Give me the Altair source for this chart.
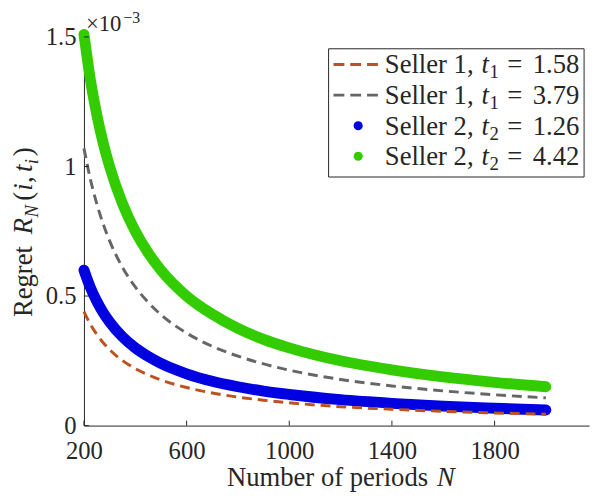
import altair as alt
import pandas as pd

# ---------------- data (values in units of 1e-3) ----------------
N = [200, 225, 250, 275, 300, 350, 400, 450, 500, 600, 700, 800, 900, 1000,
     1200, 1400, 1600, 1800, 2000]
seller1_t158 = [0.44, 0.391, 0.352, 0.32, 0.293, 0.251, 0.22, 0.196, 0.176, 0.147,
                0.126, 0.11, 0.098, 0.088, 0.073, 0.063, 0.055, 0.049, 0.044]
seller1_t379 = [1.07, 0.951, 0.856, 0.778, 0.713, 0.611, 0.535, 0.476, 0.428, 0.357,
                0.306, 0.268, 0.238, 0.214, 0.178, 0.153, 0.134, 0.119, 0.107]
seller2_t126 = [0.60, 0.533, 0.48, 0.436, 0.40, 0.343, 0.30, 0.267, 0.24, 0.20,
                0.171, 0.15, 0.133, 0.12, 0.10, 0.086, 0.075, 0.067, 0.06]
seller2_t442 = [1.51, 1.335, 1.20, 1.09, 1.00, 0.857, 0.75, 0.667, 0.60, 0.50,
                0.43, 0.375, 0.333, 0.30, 0.25, 0.215, 0.188, 0.167, 0.15]
series_names = ["Seller 1, t1 = 1.58", "Seller 1, t1 = 3.79",
                "Seller 2, t2 = 1.26", "Seller 2, t2 = 4.42"]
legend_sub = ["1", "1", "2", "2"]
legend_val = ["1.58", "3.79", "1.26", "4.42"]
x_ticks = [200, 600, 1000, 1400, 1800]
y_ticks = [0, 0.5, 1, 1.5]

rows = []
for name, vals in zip(series_names, [seller1_t158, seller1_t379, seller2_t126, seller2_t442]):
    for n, v in zip(N, vals):
        rows.append({"series": name, "N": n, "R": v})
df = pd.DataFrame(rows)

# ---------------- style ----------------
W, H = 512, 394
FONT = "Liberation Serif"
INK = "#262626"
ORANGE = "#C0501E"
GRAY = "#666666"
BLUE = "#0000E0"
GREEN = "#33CC00"
COLORS = [ORANGE, GRAY, BLUE, GREEN]

xs = alt.Scale(domain=[200, 2168], nice=False, zero=False)
ys = alt.Scale(domain=[0, 1.5], nice=False, zero=False)
cs = alt.Scale(domain=series_names, range=COLORS)

x_axis = alt.Axis(values=x_ticks, title=None, grid=False, ticks=False, domainColor=INK,
                  domainWidth=1, labelFont=FONT, labelFontSize=25, labelColor=INK,
                  labelPadding=13, labelFlush=False, labelOverlap=False, format="d")
y_axis = alt.Axis(values=y_ticks, title=None, grid=False, ticks=False, domainColor=INK,
                  domainWidth=1, labelFont=FONT, labelFontSize=25, labelColor=INK,
                  labelPadding=8, labelFlush=False, labelOverlap=False, format="~g")

base = alt.Chart(df)
dashed = base.transform_filter(
    alt.FieldOneOfPredicate(field="series", oneOf=series_names[:2])
).mark_line(strokeDash=[10, 6], strokeWidth=3, interpolate="monotone").encode(
    x=alt.X("N:Q", scale=xs, axis=x_axis),
    y=alt.Y("R:Q", scale=ys, axis=y_axis),
    color=alt.Color("series:N", scale=cs, legend=None),
)
thick = base.transform_filter(
    alt.FieldOneOfPredicate(field="series", oneOf=series_names[2:])
).mark_line(strokeWidth=11, strokeCap="round", strokeJoin="round",
            interpolate="monotone").encode(
    x=alt.X("N:Q", scale=xs, axis=x_axis),
    y=alt.Y("R:Q", scale=ys, axis=y_axis),
    color=alt.Color("series:N", scale=cs, legend=None),
)

xt = alt.Chart(pd.DataFrame({"v": x_ticks})).mark_rule(color=INK, strokeWidth=1).encode(
    x=alt.X("v:Q", scale=xs, axis=x_axis), y=alt.value(H), y2=alt.value(H - 5))
yt = alt.Chart(pd.DataFrame({"v": y_ticks})).mark_rule(color=INK, strokeWidth=1).encode(
    y=alt.Y("v:Q", scale=ys, axis=y_axis), x=alt.value(0), x2=alt.value(5))

ONE = alt.Data(values=[{"a": 1}])


def txt(s, x, y, size=27, italic=False, angle=0, align="left", baseline="alphabetic"):
    kw = dict(font=FONT, fontSize=size, color=INK, align=align, baseline=baseline)
    if italic:
        kw["fontStyle"] = "italic"
    if angle:
        kw["angle"] = angle
    return alt.Chart(ONE).mark_text(**kw).encode(
        x=alt.value(x), y=alt.value(y), text=alt.value(s))


ann = []
# x title
ann.append(txt("Number of periods", 145, 455))
ann.append(txt("N", 358, 455, italic=True))
# y title (rotated)
bx = -53
ann.append(txt("Regret", bx, 284, angle=270))
ann.append(txt("R", bx, 200, italic=True, angle=270))
ann.append(txt("N", bx + 6, 183, size=19, italic=True, angle=270))
ann.append(txt("(", bx, 166, angle=270))
ann.append(txt("i", bx, 156, italic=True, angle=270))
ann.append(txt(",", bx, 148, angle=270))
ann.append(txt("t", bx, 137, italic=True, angle=270))
ann.append(txt("i", bx + 6, 129, size=19, italic=True, angle=270))
ann.append(txt(")", bx, 121, angle=270))
# x10^-3
ann.append(txt("\u00d710", 2, -6, size=23))
ann.append(txt("\u22123", 40, -14, size=16))

# legend
box = alt.Chart(ONE).mark_rect(fill="white", stroke=INK, strokeWidth=1).encode(
    x=alt.value(248), x2=alt.value(507), y=alt.value(12), y2=alt.value(142))
leg = [box]
sym_y = [28, 59, 90, 121]
for i in range(4):
    yb = sym_y[i] + 9
    if i < 2:
        leg.append(alt.Chart(ONE).mark_rule(color=COLORS[i], strokeWidth=3,
                                            strokeDash=[11, 6]).encode(
            x=alt.value(253), x2=alt.value(302), y=alt.value(sym_y[i])))
    else:
        leg.append(alt.Chart(ONE).mark_circle(size=85, color=COLORS[i], opacity=1).encode(
            x=alt.value(278), y=alt.value(sym_y[i])))
    leg.append(txt("Seller %s," % legend_sub[i], 305, yb))
    leg.append(txt("t", 403, yb, italic=True))
    leg.append(txt(legend_sub[i], 411, yb + 5, size=19))
    leg.append(txt("=", 429, yb))
    leg.append(txt(legend_val[i], 455, yb))

chart = alt.layer(thick, dashed, xt, yt, *ann, *leg).properties(
    width=W, height=H,
    autosize=alt.AutoSizeParams(type="none"),
    padding={"left": 77, "top": 26, "right": 1, "bottom": 65},
    background="white",
).configure_view(stroke=None)

chart.save("out.html", embed_options={"renderer": "svg", "actions": False})
